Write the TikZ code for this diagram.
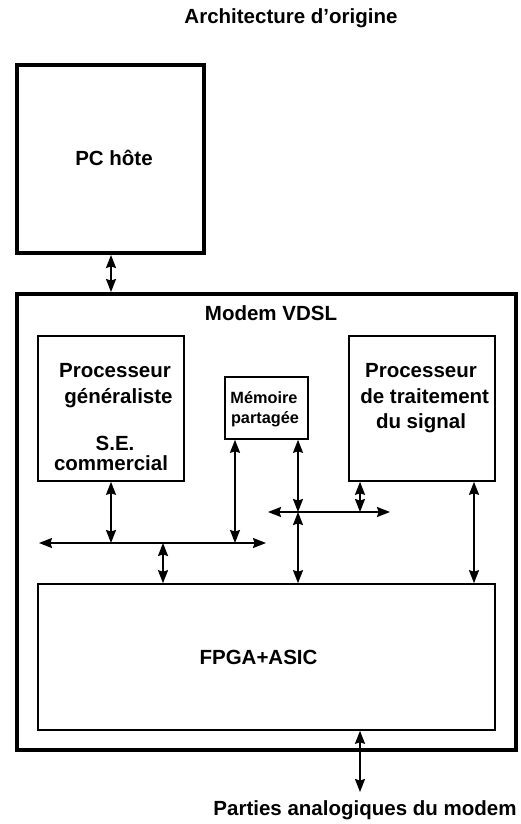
\documentclass[tikz,border=0pt]{standalone}
\usepackage{fontspec}
\setmainfont{Liberation Sans}
\usetikzlibrary{arrows.meta}
\begin{document}
\begin{tikzpicture}[x=1pt,y=-1pt,
  lbl/.style={font=\fontsize{20.5}{24}\selectfont\bfseries, inner sep=0pt, anchor=base},
  smalllbl/.style={font=\fontsize{16.3}{20}\selectfont\bfseries, inner sep=0pt, anchor=base},
  thickbox/.style={draw, line width=4pt, inner sep=0pt},
  thinbox/.style={draw, line width=1.6pt, inner sep=0pt},
  biarrow/.style={{Stealth[length=13pt,width=10pt,inset=1.5pt]}-{Stealth[length=13pt,width=10pt,inset=1.5pt]}, line width=1.7pt}
]
\useasboundingbox (0,0) rectangle (521,824);
\fill[white] (0,0) rectangle (521,824);

% title
\node[lbl] (title) at (291,24) {Architecture d’origine};

% PC
\node[thickbox, minimum width=187pt, minimum height=188pt] (pc) at (110.5,159) {};
\node[lbl] (pct) at (114,165.5) {PC hôte};

% Modem
\node[thickbox, minimum width=499pt, minimum height=456pt] (modem) at (266.5,522) {};
\node[lbl] (modemt) at (271,320) {Modem VDSL};

% Processeur generaliste
\node[thinbox, minimum width=146pt, minimum height=145pt] (pg) at (111,408.5) {};
\node[lbl] (pg1) at (115,377.3) {Processeur};
\node[lbl] (pg2) at (118.5,403.3) {généraliste};
\node[lbl] (pg3) at (115,450) {S.E.};
\node[lbl] (pg4) at (111,470.7) {commercial};

% Memoire
\node[thinbox, minimum width=83pt, minimum height=62pt] (mem) at (266.5,408) {};
\node[smalllbl] (mem1) at (264,403.3) {Mémoire};
\node[smalllbl] (mem2) at (265,423.3) {partagée};

% DSP
\node[thinbox, minimum width=146pt, minimum height=145pt] (dsp) at (422,408.5) {};
\node[lbl] (dsp1) at (421,377.3) {Processeur};
\node[lbl] (dsp2) at (424.7,403.3) {de traitement};
\node[lbl] (dsp3) at (421,428.3) {du signal};

% FPGA
\node[thinbox, minimum width=457pt, minimum height=146pt] (fpga) at (266.5,657) {};
\node[lbl] (fpgat) at (258.5,664) {FPGA+ASIC};

% output label
\node[lbl] (parties) at (365,815) {Parties analogiques du modem};

% coordinates
\coordinate (bl1) at (39,543);
\coordinate (bl2) at (266,543);
\coordinate (br1) at (268,512);
\coordinate (br2) at (390,512);
\coordinate (xp) at (111,543);
\coordinate (xa) at (163,543);
\coordinate (xb) at (235,543);
\coordinate (xm) at (298,512);
\coordinate (xd) at (360,512);
\coordinate (xe) at (474,0);
\coordinate (out) at (360,792);

% connectors
\draw[biarrow] (pc.south -| xp) -- (modem.north -| xp);
\draw[biarrow] (bl1) -- (bl2);
\draw[biarrow] (pg.south -| xp) -- (xp);
\draw[biarrow] (mem.south -| xb) -- (xb);
\draw[biarrow] (xa) -- (fpga.north -| xa);
\draw[biarrow] (br1) -- (br2);
\draw[biarrow] (mem.south -| xm) -- (xm);
\draw[biarrow] (xm) -- (fpga.north -| xm);
\draw[biarrow] (dsp.south -| xd) -- (xd);
\draw[biarrow] (dsp.south -| xe) -- (fpga.north -| xe);
\draw[biarrow] (fpga.south -| out) -- (out);
\end{tikzpicture}
\end{document}
